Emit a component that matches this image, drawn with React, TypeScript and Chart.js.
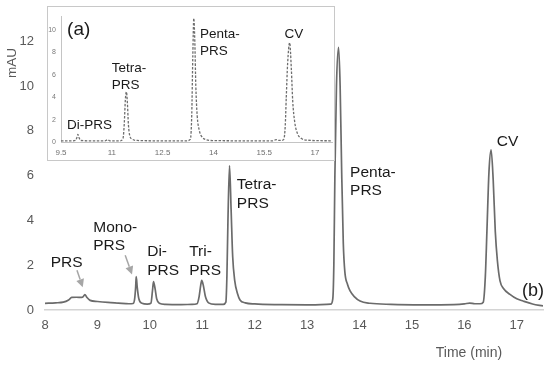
import React, { useEffect, useRef } from "react";
import { Chart, registerables } from "chart.js";

Chart.register(...registerables);

const FONT = '"Liberation Sans", Arial, sans-serif';

// ---- main chromatogram (b) ----
const mainTime = [
  8.0, 8.2, 8.35, 8.45, 8.51, 8.6, 8.7, 8.73, 8.76, 8.8, 8.86, 9.0, 9.2, 9.4, 9.6, 9.68,
  9.71, 9.73, 9.74, 9.76, 9.79, 9.85, 9.95, 10.02, 10.05, 10.07, 10.1, 10.13, 10.18, 10.3,
  10.6, 10.8, 10.9, 10.94, 10.97, 10.99, 11.02, 11.06, 11.12, 11.25, 11.4, 11.45, 11.47,
  11.49, 11.52, 11.55, 11.58, 11.62, 11.67, 11.72, 11.82, 12.0, 12.5, 13.0, 13.45, 13.49,
  13.51, 13.53, 13.56, 13.6, 13.63, 13.66, 13.69, 13.72, 13.77, 13.82, 13.9, 14.01, 14.2,
  14.6, 15.2, 15.8, 16.0, 16.1, 16.2, 16.3, 16.36, 16.4, 16.43, 16.47, 16.51, 16.55, 16.59,
  16.63, 16.68, 16.75, 16.87, 17.0, 17.12, 17.3, 17.5,
];
const mainAbs = [
  0.3, 0.32, 0.35, 0.45, 0.56, 0.57, 0.56, 0.6, 0.69, 0.56, 0.43, 0.38, 0.34, 0.31, 0.28, 0.29,
  0.5, 1.05, 1.49, 1.0, 0.5, 0.3, 0.26, 0.3, 0.85, 1.27, 0.95, 0.5, 0.3, 0.25,
  0.24, 0.25, 0.28, 0.6, 1.1, 1.32, 1.1, 0.6, 0.32, 0.25, 0.25, 0.35, 1.5,
  4.0, 6.45, 4.5, 2.4, 1.3, 0.75, 0.45, 0.32, 0.27, 0.24, 0.23, 0.26, 0.5,
  2.0, 6.0, 10.0, 11.72, 10.0, 6.1, 3.0, 1.7, 1.15, 0.85, 0.6, 0.4, 0.3,
  0.25, 0.23, 0.24, 0.27, 0.31, 0.28, 0.28, 0.35, 1.5, 3.5, 6.2, 7.15, 5.8, 3.5,
  2.2, 1.3, 0.95, 0.7, 0.5, 0.4, 0.27, 0.18,
];
const mainXTicks = [8, 9, 10, 11, 12, 13, 14, 15, 16, 17];
const mainYTicks = [0, 2, 4, 6, 8, 10, 12];

// ---- inset chromatogram (a) ----
const insetTime = [
  9.5, 9.8, 9.93, 9.97, 10.0, 10.03, 10.08, 10.4, 10.8, 10.88, 10.94, 11.25, 11.33, 11.37,
  11.4, 11.43, 11.46, 11.49, 11.53, 11.6, 11.75, 12.5, 13.2, 13.32, 13.36, 13.39, 13.42,
  13.45, 13.48, 13.52, 13.58, 13.66, 13.78, 14.0, 15.0, 15.75, 15.85, 15.92, 16.04, 16.08,
  16.12, 16.15, 16.19, 16.25, 16.3, 16.34, 16.4, 16.48, 16.6, 16.8, 17.5,
];
const insetAbs = [
  0.15, 0.15, 0.18, 0.45, 0.72, 0.45, 0.18, 0.15, 0.15, 0.25, 0.15, 0.15, 0.35, 1.8,
  3.8, 4.5, 3.5, 1.6, 0.6, 0.3, 0.18, 0.15, 0.15, 0.3, 2.5, 7.5, 11.0,
  9.0, 5.0, 2.4, 1.1, 0.5, 0.25, 0.17, 0.15, 0.15, 0.25, 0.18, 0.2, 0.3,
  1.5, 4.0, 7.0, 8.85, 6.5, 3.7, 1.8, 0.8, 0.35, 0.2, 0.15,
];
const insetXTicks = [9.5, 11, 12.5, 14, 15.5, 17];
const insetYTicks = [0, 2, 4, 6, 8, 10];

type Label = { lines: string[]; x: number; y: number; size?: number };
type Arrow = { x1: number; y1: number; x2: number; y2: number };

const mainLabels: Label[] = [
  { lines: ["PRS"], x: 8.11, y: 2.13 },
  { lines: ["Mono-", "PRS"], x: 8.92, y: 3.68 },
  { lines: ["Di-", "PRS"], x: 9.95, y: 2.59 },
  { lines: ["Tri-", "PRS"], x: 10.75, y: 2.59 },
  { lines: ["Tetra-", "PRS"], x: 11.66, y: 5.58 },
  { lines: ["Penta-", "PRS"], x: 13.82, y: 6.13 },
  { lines: ["CV"], x: 16.62, y: 7.53 },
  { lines: ["(b)"], x: 17.1, y: 0.84, size: 18 },
];
const mainArrows: Arrow[] = [
  { x1: 8.61, y1: 1.77, x2: 8.72, y2: 1.02 },
  { x1: 9.53, y1: 2.44, x2: 9.66, y2: 1.59 },
];

const insetLabels: Label[] = [
  { lines: ["(a)"], x: 9.68, y: 10.0, size: 19 },
  { lines: ["Di-PRS"], x: 9.68, y: 1.55 },
  { lines: ["Tetra-", "PRS"], x: 11.0, y: 6.57 },
  { lines: ["Penta-", "PRS"], x: 13.6, y: 9.58 },
  { lines: ["CV"], x: 16.1, y: 9.58 },
];

function annotate(id: string, labels: Label[], arrows: Arrow[], size: number, lineH: number, extra?: (c: any) => void) {
  return {
    id,
    afterDatasetsDraw(chart: any) {
      const { ctx } = chart;
      const xs = chart.scales.x;
      const ys = chart.scales.y;
      ctx.save();
      ctx.fillStyle = "#1a1a1a";
      ctx.textAlign = "left";
      ctx.textBaseline = "middle";
      for (const l of labels) {
        ctx.font = `${l.size || size}px ${FONT}`;
        const px = xs.getPixelForValue(l.x);
        const py = ys.getPixelForValue(l.y);
        l.lines.forEach((t, i) => ctx.fillText(t, px, py + i * lineH));
      }
      for (const a of arrows) {
        const x1 = xs.getPixelForValue(a.x1);
        const y1 = ys.getPixelForValue(a.y1);
        const x2 = xs.getPixelForValue(a.x2);
        const y2 = ys.getPixelForValue(a.y2);
        const ang = Math.atan2(y2 - y1, x2 - x1);
        const hl = 8;
        const hw = 4;
        const bx = x2 - hl * Math.cos(ang);
        const by = y2 - hl * Math.sin(ang);
        ctx.strokeStyle = "#a6a6a6";
        ctx.fillStyle = "#a6a6a6";
        ctx.lineWidth = 1.5;
        ctx.beginPath();
        ctx.moveTo(x1, y1);
        ctx.lineTo(bx, by);
        ctx.stroke();
        ctx.beginPath();
        ctx.moveTo(x2, y2);
        ctx.lineTo(bx + hw * Math.sin(ang), by - hw * Math.cos(ang));
        ctx.lineTo(bx - hw * Math.sin(ang), by + hw * Math.cos(ang));
        ctx.closePath();
        ctx.fill();
        ctx.fillStyle = "#1a1a1a";
      }
      if (extra) extra(chart);
      ctx.restore();
    },
  };
}

function points(xs: number[], ys: number[]) {
  return xs.map((x, i) => ({ x, y: ys[i] }));
}

export default function App() {
  const mainRef = useRef<HTMLCanvasElement>(null);
  const insetRef = useRef<HTMLCanvasElement>(null);

  useEffect(() => {
    const main = new Chart(mainRef.current!, {
      type: "line",
      data: {
        datasets: [
          {
            data: points(mainTime, mainAbs),
            borderColor: "#6b6b6b",
            borderWidth: 1.7,
            pointRadius: 0,
            cubicInterpolationMode: "monotone",
          },
        ],
      },
      options: {
        responsive: false,
        animation: false,
        layout: { padding: { top: 16, right: 7, left: 0, bottom: 0 } },
        plugins: { legend: { display: false }, tooltip: { enabled: false } },
        scales: {
          x: {
            type: "linear",
            min: 8,
            max: 17.5,
            grid: { display: false, drawTicks: false },
            border: { display: true, color: "#d4d4d4", width: 1.5 },
            afterBuildTicks: (s: any) => {
              s.ticks = mainXTicks.map((v) => ({ value: v }));
            },
            afterFit: (s: any) => {
              s.height = 57;
            },
            ticks: {
              padding: 8,
              color: "#595959",
              font: { family: FONT, size: 13 },
              maxRotation: 0,
              callback: (v: any) => String(v),
            },
          },
          y: {
            type: "linear",
            min: 0,
            max: 13,
            grid: { display: false, drawTicks: false },
            border: { display: false },
            afterBuildTicks: (s: any) => {
              s.ticks = mainYTicks.map((v) => ({ value: v }));
            },
            afterFit: (s: any) => {
              s.width = 45;
            },
            ticks: {
              padding: 11,
              color: "#595959",
              font: { family: FONT, size: 13 },
              callback: (v: any) => String(v),
            },
          },
        },
      },
      plugins: [
        annotate("mainAnno", mainLabels, mainArrows, 15.5, 18.5, (chart: any) => {
          const ctx = chart.ctx;
          ctx.fillStyle = "#595959";
          ctx.font = `14px ${FONT}`;
          ctx.textAlign = "center";
          ctx.textBaseline = "middle";
          ctx.fillText("Time (min)", 469, 353);
          ctx.save();
          ctx.translate(12, 63);
          ctx.rotate(-Math.PI / 2);
          ctx.font = `13.5px ${FONT}`;
          ctx.fillText("mAU", 0, 0);
          ctx.restore();
        }),
      ],
    } as any);

    const inset = new Chart(insetRef.current!, {
      type: "line",
      data: {
        datasets: [
          {
            data: points(insetTime, insetAbs),
            borderColor: "#6e6e6e",
            borderWidth: 1.3,
            borderDash: [2.5, 1.5],
            pointRadius: 0,
            cubicInterpolationMode: "monotone",
          },
        ],
      },
      options: {
        responsive: false,
        animation: false,
        layout: { padding: { top: 1.5, right: 2, left: 0, bottom: 0 } },
        plugins: { legend: { display: false }, tooltip: { enabled: false } },
        scales: {
          x: {
            type: "linear",
            min: 9.5,
            max: 17.5,
            grid: { display: false, drawTicks: false },
            border: { display: true, color: "#c4c4c4", width: 1 },
            afterBuildTicks: (s: any) => {
              s.ticks = insetXTicks.map((v) => ({ value: v }));
            },
            afterFit: (s: any) => {
              s.height = 17.5;
            },
            ticks: {
              padding: 5,
              color: "#6f6f6f",
              font: { family: FONT, size: 8 },
              maxRotation: 0,
              callback: (v: any) => String(v),
            },
          },
          y: {
            type: "linear",
            min: 0,
            max: 11.2,
            grid: { display: false, drawTicks: false },
            border: { display: true, color: "#c4c4c4", width: 1 },
            afterBuildTicks: (s: any) => {
              s.ticks = insetYTicks.map((v) => ({ value: v }));
            },
            afterFit: (s: any) => {
              s.width = 13;
            },
            ticks: {
              padding: 5,
              color: "#7a7a7a",
              font: { family: FONT, size: 7 },
              callback: (v: any) => String(v),
            },
          },
        },
      },
      plugins: [annotate("insetAnno", insetLabels, [], 13.5, 16.5)],
    } as any);

    return () => {
      main.destroy();
      inset.destroy();
    };
  }, []);

  return (
    <div style={{ position: "fixed", left: 0, top: 0, width: 550, height: 367, background: "#fff" }}>
      <canvas ref={mainRef} width={550} height={367} style={{ position: "absolute", left: 0, top: 0, width: 550, height: 367 }} />
      <div
        style={{
          position: "absolute",
          left: 47,
          top: 6,
          width: 288,
          height: 155,
          boxSizing: "border-box",
          border: "1px solid #c8c8c8",
          background: "#fff",
        }}
      >
        <canvas ref={insetRef} width={286} height={153} style={{ display: "block", width: 286, height: 153 }} />
      </div>
    </div>
  );
}
